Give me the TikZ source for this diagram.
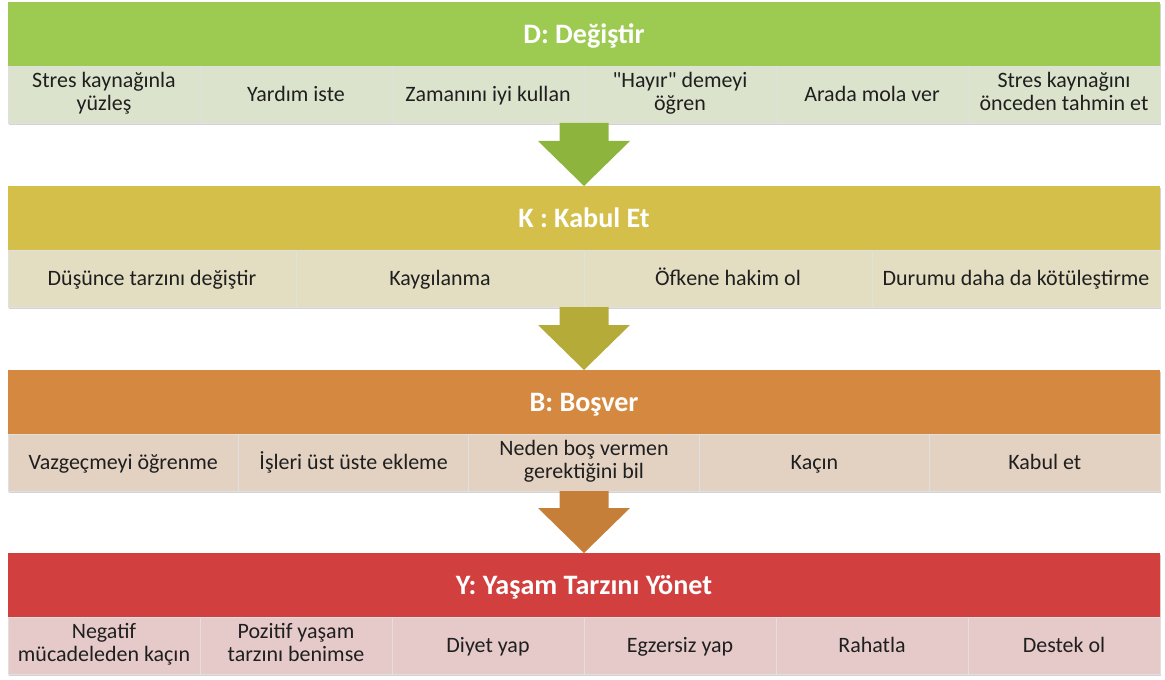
\documentclass[tikz,border=0pt]{standalone}
\usepackage{fontspec}
\setmainfont{Carlito}
\newfontfamily\quotefont{Carlito}
\usetikzlibrary{positioning,arrows.meta,shadows}

\definecolor{dgreen}{RGB}{157,203,82}
\definecolor{dgreensub}{RGB}{220,227,204}
\definecolor{dgreenarr}{RGB}{141,181,62}
\definecolor{kyellow}{RGB}{211,191,73}
\definecolor{kyellowsub}{RGB}{227,222,194}
\definecolor{kyellowarr}{RGB}{181,171,57}
\definecolor{borange}{RGB}{213,137,64}
\definecolor{borangesub}{RGB}{227,210,194}
\definecolor{borangearr}{RGB}{197,127,57}
\definecolor{yred}{RGB}{209,64,62}
\definecolor{yredsub}{RGB}{230,202,202}

\newcommand\itemstrut{\rule[-3.8pt]{0pt}{15.8pt}}
\newcommand\headstrut{\rule[-5pt]{0pt}{21pt}}

\tikzstyle{header} = [rectangle, minimum width=23.04cm, minimum height=1.28cm, inner sep=0pt, outer sep=0pt, text=white, font=\fontsize{16}{19}\selectfont\bfseries, execute at begin node=\headstrut, drop shadow={shadow xshift=0.8pt, shadow yshift=-1.2pt, opacity=0.35}]
\tikzstyle{item} = [rectangle, minimum height=1.14cm, inner sep=0pt, outer sep=0pt, align=center, text=black!88, font=\fontsize{12.5}{13}\selectfont, execute at begin node=\itemstrut, execute at end node=\itemstrut, draw=black!12, line width=0.5pt, drop shadow={shadow xshift=0.8pt, shadow yshift=-1.4pt, opacity=0.35}]
\tikzstyle{item6} = [item, minimum width=3.84cm]
\tikzstyle{item5} = [item, minimum width=4.608cm]
\tikzstyle{item4} = [item, minimum width=5.76cm]
\tikzstyle{arrow} = [line width=0.98cm, -{Triangle[width=1.84cm, length=0.9cm, line width=0pt]}]

\begin{document}
\begin{tikzpicture}
\useasboundingbox (0,0) rectangle (23.3,-13.6);

\node (dhead) [header, fill=dgreen, anchor=north west] at (0.16,-0.04) {D: Değiştir};
\node (d1) [item6, fill=dgreensub, anchor=north west] at (dhead.south west) {Stres kaynağınla\\yüzleş};
\node (d2) [item6, fill=dgreensub, right=0pt of d1] {Yardım iste};
\node (d3) [item6, fill=dgreensub, right=0pt of d2] {Zamanını iyi kullan};
\node (d4) [item6, fill=dgreensub, right=0pt of d3] {{\quotefont"}Hayır{\quotefont"} demeyi\\öğren};
\node (d5) [item6, fill=dgreensub, right=0pt of d4] {Arada mola ver};
\node (d6) [item6, fill=dgreensub, right=0pt of d5] {Stres kaynağını\\önceden tahmin et};

\node (khead) [header, fill=kyellow, below=1.26cm of d1.south west, anchor=north west] {K : Kabul Et};
\node (k1) [item4, fill=kyellowsub, anchor=north west] at (khead.south west) {Düşünce tarzını değiştir};
\node (k2) [item4, fill=kyellowsub, right=0pt of k1] {Kaygılanma};
\node (k3) [item4, fill=kyellowsub, right=0pt of k2] {Öfkene hakim ol};
\node (k4) [item4, fill=kyellowsub, right=0pt of k3] {Durumu daha da kötüleştirme};

\node (bhead) [header, fill=borange, below=1.26cm of k1.south west, anchor=north west] {B: Boşver};
\node (b1) [item5, fill=borangesub, anchor=north west] at (bhead.south west) {Vazgeçmeyi öğrenme};
\node (b2) [item5, fill=borangesub, right=0pt of b1] {İşleri üst üste ekleme};
\node (b3) [item5, fill=borangesub, right=0pt of b2] {Neden boş vermen\\gerektiğini bil};
\node (b4) [item5, fill=borangesub, right=0pt of b3] {Kaçın};
\node (b5) [item5, fill=borangesub, right=0pt of b4] {Kabul et};

\node (yhead) [header, fill=yred, below=1.24cm of b1.south west, anchor=north west] {Y: Yaşam Tarzını Yönet};
\node (y1) [item6, fill=yredsub, anchor=north west] at (yhead.south west) {Negatif\\mücadeleden kaçın};
\node (y2) [item6, fill=yredsub, right=0pt of y1] {Pozitif yaşam\\tarzını benimse};
\node (y3) [item6, fill=yredsub, right=0pt of y2] {Diyet yap};
\node (y4) [item6, fill=yredsub, right=0pt of y3] {Egzersiz yap};
\node (y5) [item6, fill=yredsub, right=0pt of y4] {Rahatla};
\node (y6) [item6, fill=yredsub, right=0pt of y5] {Destek ol};

\draw [arrow, dgreenarr] (d3.south east) -- (khead.north);
\draw [arrow, kyellowarr] (k2.south east) -- (bhead.north);
\draw [arrow, borangearr] (b3.south) -- (yhead.north);

\end{tikzpicture}
\end{document}
